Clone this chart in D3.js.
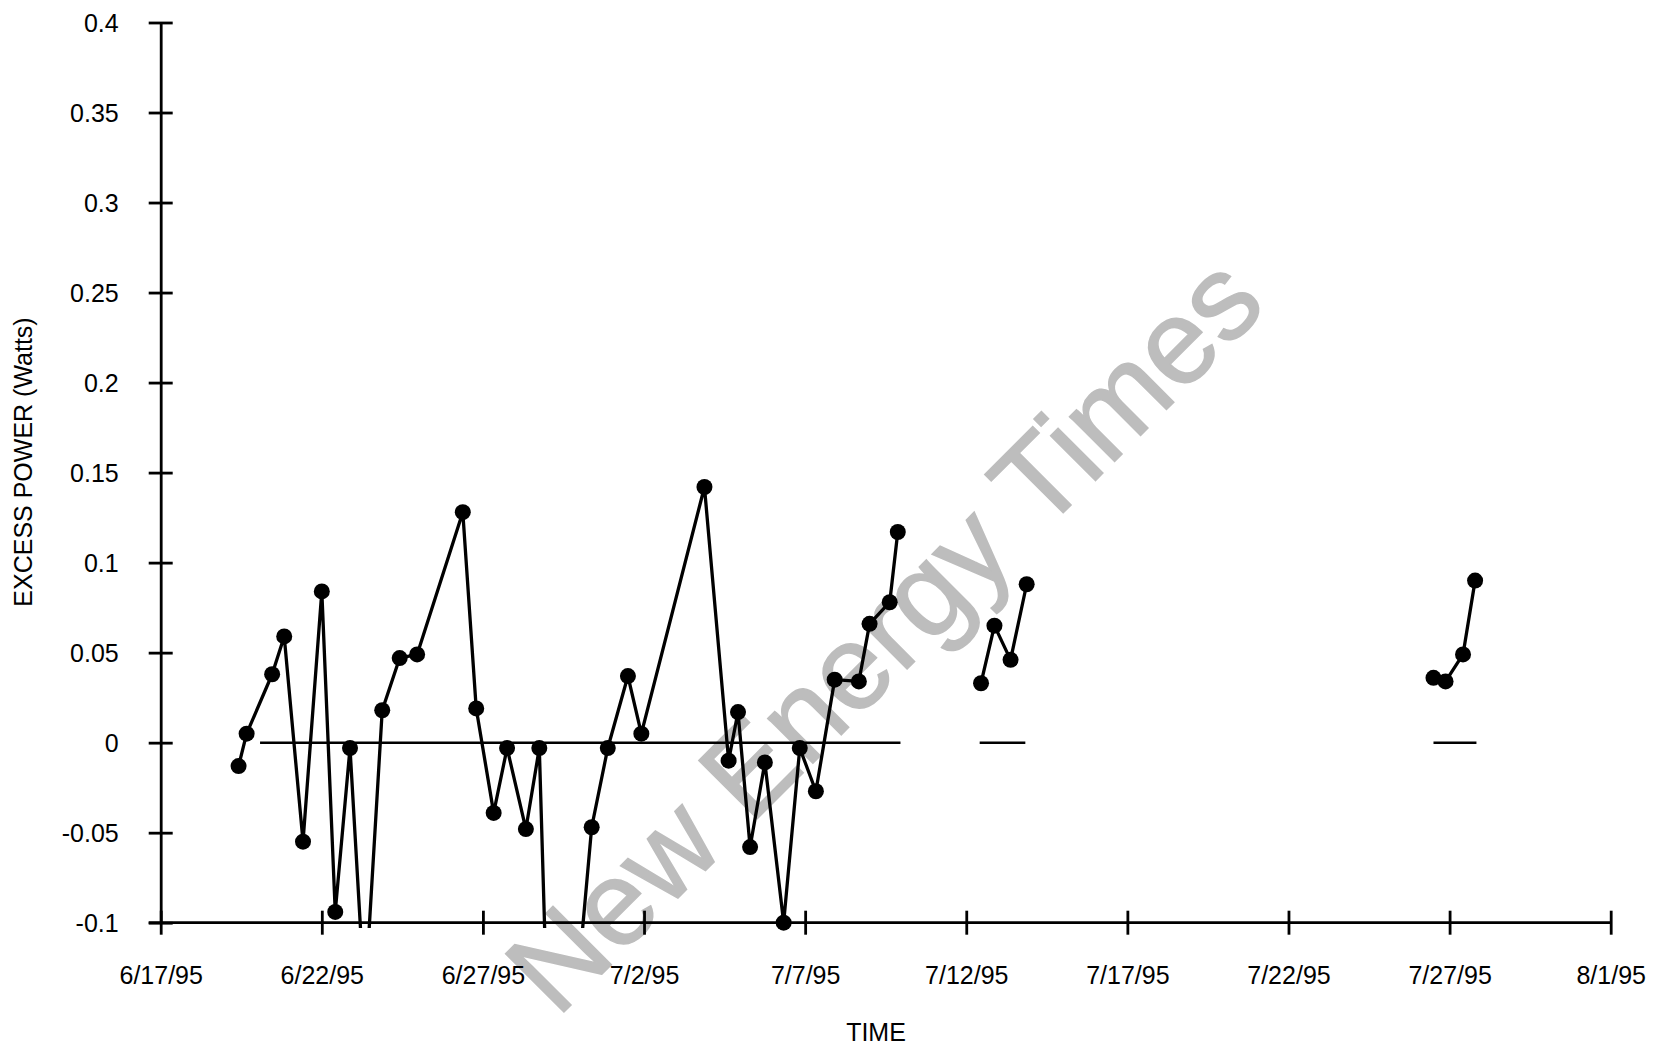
<!DOCTYPE html>
<html>
<head>
<meta charset="utf-8">
<script src="https://cdn.jsdelivr.net/npm/d3@7"></script>
<style>
  html, body { margin: 0; padding: 0; background: #fff; }
  svg { display: block; }
  text { font-family: "Liberation Sans", Arial, Helvetica, sans-serif; fill: #000; }
</style>
</head>
<body>
<svg id="chart" width="1669" height="1049"></svg>
<script>
// ---- data ----
const run1Times = [
  "1995-06-19 10:00","1995-06-19 16:00","1995-06-20 11:00","1995-06-20 20:00",
  "1995-06-21 10:00","1995-06-22 00:00","1995-06-22 10:00","1995-06-22 21:00",
  "1995-06-23 08:00","1995-06-23 21:00","1995-06-24 10:00","1995-06-24 23:00",
  "1995-06-26 09:00","1995-06-26 19:00","1995-06-27 08:00","1995-06-27 18:00",
  "1995-06-28 08:00","1995-06-28 18:00","1995-06-29 05:00","1995-06-30 09:00",
  "1995-06-30 21:00","1995-07-01 12:00","1995-07-01 22:00","1995-07-03 21:00",
  "1995-07-04 15:00","1995-07-04 22:00","1995-07-05 07:00","1995-07-05 18:00",
  "1995-07-06 08:00","1995-07-06 20:00","1995-07-07 08:00","1995-07-07 22:00",
  "1995-07-08 16:00","1995-07-09 00:00","1995-07-09 15:00","1995-07-09 21:00"
];
const run1Power = [
  -0.013, 0.005, 0.038, 0.059,
  -0.055, 0.084, -0.094, -0.003,
  -0.144, 0.018, 0.047, 0.049,
  0.128, 0.019, -0.039, -0.003,
  -0.048, -0.003, -0.28, -0.047,
  -0.003, 0.037, 0.005, 0.142,
  -0.010, 0.017, -0.058, -0.011,
  -0.100, -0.003, -0.027, 0.035,
  0.034, 0.066, 0.078, 0.117
];
const run2Times = ["1995-07-12 11:00","1995-07-12 21:00","1995-07-13 09:00","1995-07-13 21:00"];
const run2Power = [0.033, 0.065, 0.046, 0.088];
const run3Times = ["1995-07-26 12:00","1995-07-26 21:00","1995-07-27 10:00","1995-07-27 19:00"];
const run3Power = [0.036, 0.034, 0.049, 0.090];

// zero baseline pieces
const baselineStart = ["1995-06-20 02:00","1995-07-12 10:00","1995-07-26 12:00"];
const baselineEnd   = ["1995-07-09 23:00","1995-07-13 20:00","1995-07-27 20:00"];

const xTickDates  = ["1995-06-17","1995-06-22","1995-06-27","1995-07-02","1995-07-07","1995-07-12","1995-07-17","1995-07-22","1995-07-27","1995-08-01"];
const xTickLabels = ["6/17/95","6/22/95","6/27/95","7/2/95","7/7/95","7/12/95","7/17/95","7/22/95","7/27/95","8/1/95"];
const yTickValues = [-0.1, -0.05, 0, 0.05, 0.1, 0.15, 0.2, 0.25, 0.3, 0.35, 0.4];
const yTickLabels = ["-0.1","-0.05","0","0.05","0.1","0.15","0.2","0.25","0.3","0.35","0.4"];

const xTitle = "TIME";
const yTitle = "EXCESS POWER (Watts)";
const watermark = "New Energy Times";

// ---- drawing ----
const parseT = d3.timeParse("%Y-%m-%d %H:%M");
const parseD = d3.timeParse("%Y-%m-%d");

const svg = d3.select("#chart");
const x = d3.scaleTime()
  .domain([parseD("1995-06-17"), parseD("1995-08-01")])
  .range([160.7, 1610.7]);
const y = d3.scaleLinear().domain([-0.1, 0.4]).range([922.7, 22.5]);

// watermark (under everything)
svg.append("text")
  .attr("transform", "translate(913,663) rotate(-45)")
  .attr("text-anchor", "middle")
  .style("font-size", "120px")
  .style("fill", "#bdbdbd")
  .style("stroke", "#bdbdbd")
  .style("stroke-width", 1.5)
  .text(watermark);

// clip for data lines
svg.append("defs").append("clipPath").attr("id", "plotclip")
  .append("rect").attr("x", 150).attr("y", 0).attr("width", 1480).attr("height", 928);

// baseline pieces
svg.append("g").selectAll("line")
  .data(baselineStart.map((s, i) => [parseT(s), parseT(baselineEnd[i])]))
  .join("line")
  .attr("x1", d => x(d[0])).attr("x2", d => x(d[1]))
  .attr("y1", y(0)).attr("y2", y(0))
  .attr("stroke", "#000").attr("stroke-width", 2.5);

// axes
const yAxis = d3.axisLeft(y).tickValues(yTickValues)
  .tickFormat((d, i) => yTickLabels[i]).tickSizeInner(0).tickSizeOuter(0).tickPadding(42);
const gy = svg.append("g").attr("transform", `translate(${x.range()[0]},0)`).call(yAxis);
gy.select(".domain").attr("stroke-width", 2.8);
gy.selectAll(".tick line").attr("x1", -12).attr("x2", 12).attr("stroke-width", 2.8);
gy.selectAll(".tick text").style("font-size", "25px").attr("dy", "0.35em");

const xAxis = d3.axisBottom(x).tickValues(xTickDates.map(parseD))
  .tickFormat((d, i) => xTickLabels[i]).tickSizeInner(0).tickSizeOuter(0).tickPadding(44);
const gx = svg.append("g").attr("transform", `translate(0,${y.range()[0]})`).call(xAxis);
gx.select(".domain").attr("stroke-width", 2.8).attr("d", `M${x.range()[0] - 12},0H${x.range()[1]}`);
gx.selectAll(".tick line").attr("y1", -12).attr("y2", 12).attr("stroke-width", 2.8);
gx.selectAll(".tick text").style("font-size", "25px").attr("dy", "0.71em");

// data runs
const runs = [
  run1Times.map((t, i) => ({ t: parseT(t), v: run1Power[i] })),
  run2Times.map((t, i) => ({ t: parseT(t), v: run2Power[i] })),
  run3Times.map((t, i) => ({ t: parseT(t), v: run3Power[i] }))
];
const line = d3.line().x(d => x(d.t)).y(d => y(d.v));
const gData = svg.append("g");
gData.append("g").attr("clip-path", "url(#plotclip)")
  .selectAll("path").data(runs).join("path")
  .attr("d", line).attr("fill", "none").attr("stroke", "#000")
  .attr("stroke-width", 3.3).attr("stroke-linejoin", "round");
gData.append("g").selectAll("circle")
  .data(runs.flat().filter(d => d.v >= -0.101 && d.v <= 0.4))
  .join("circle")
  .attr("cx", d => x(d.t)).attr("cy", d => y(d.v)).attr("r", 8).attr("fill", "#000");

// titles
svg.append("text").attr("x", 876).attr("y", 1041)
  .attr("text-anchor", "middle").style("font-size", "25px").text(xTitle);
svg.append("text").attr("transform", "translate(32,462) rotate(-90)")
  .attr("text-anchor", "middle").style("font-size", "25px").text(yTitle);
</script>
</body>
</html>
